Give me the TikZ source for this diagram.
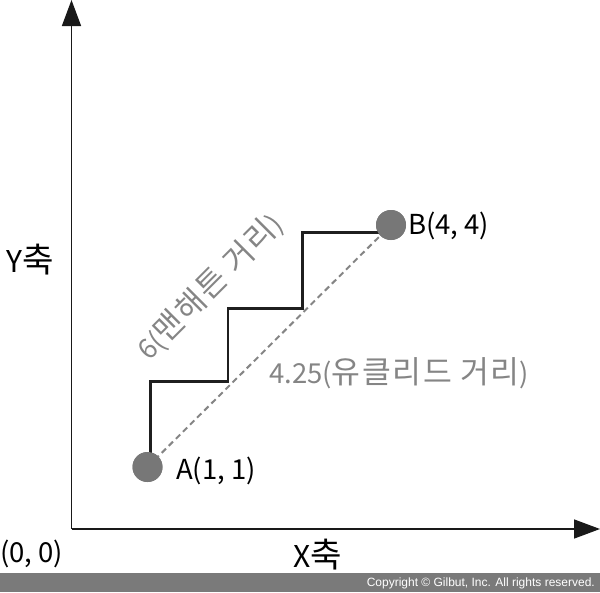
\documentclass[tikz,border=0pt]{standalone}
\usepackage{fontspec}
\setmainfont{Noto Sans CJK KR}[Numbers=Proportional]
\newfontfamily\hg{Noto Sans CJK KR}[Scale=1.14,LetterSpace=5]
\newfontfamily\copyfont{Liberation Sans}
\usetikzlibrary{arrows.meta}
\definecolor{dotgray}{HTML}{777777}
\definecolor{labgray}{HTML}{858585}
\definecolor{bargray}{HTML}{7A7A7A}
\tikzset{
  axis/.style={line width=1.5pt, draw=black!90, -{Triangle[length=26pt,width=19pt]}},
  stair/.style={line width=2.2pt, draw=black!88, line join=miter},
  euclid/.style={line width=2pt, draw=labgray, dash pattern=on 6pt off 4pt},
  pt/.style={circle, fill=dotgray, minimum size=30pt, inner sep=0pt},
  lab/.style={font=\fontsize{27.5}{30}\selectfont, inner sep=0pt},
  axlab/.style={font=\fontsize{30}{34}\selectfont, inner sep=0pt},
}
\begin{document}
\begin{tikzpicture}[x=1pt,y=-1pt]
\useasboundingbox (0,0) rectangle (600,592);
% bottom bar
\fill[bargray] (0,573) rectangle (600,592);
\node[anchor=east, text=white, inner sep=0pt, font=\copyfont\fontsize{12}{14}\selectfont] (copy) at (595,583) {Copyright © Gilbut, Inc. All rights reserved.};
% axes
\coordinate (O) at (71.5,529);
\coordinate (ytip) at (71.5,0);
\coordinate (xtip) at (600,529);
\draw[axis] (O) -- (ytip);
\draw[axis] (O) -- (xtip);
\node[lab, anchor=base west] (orig) at (0,562) {(0, 0)};
\node[axlab, anchor=base west] (ylab) at (6,272) {Y{\hg 축}};
\node[axlab, anchor=base west] (xlab) at (293,567) {X{\hg 축}};
% points
\node[pt] (A) at (147.5,467) {};
\node[pt] (B) at (391,225) {};
% euclidean
\draw[euclid] (A.center) -- (B.center);
% staircase
\coordinate (s0) at (150.5,467);
\coordinate (s1) at (228,381.5);
\coordinate (s2) at (302.5,308.5);
\coordinate (s3) at (380,232.5);
\draw[stair] (s0) |- (s1) |- (s2) |- (s3);
\node[pt] at (A) {};
\node[pt] at (B) {};
% labels
\node[lab, anchor=base west] (Alab) at (176,479) {A(1, 1)};
\node[lab, anchor=base west] (Blab) at (408,234) {B(4, 4)};
\node[lab, anchor=base west, text=labgray] (elab) at (269,383) {4.25({\hg 유클리드 거리})};
\node[lab, text=labgray, rotate=45] (mlab) at (210,287) {6({\hg 맨해튼 거리})};
\end{tikzpicture}
\end{document}
